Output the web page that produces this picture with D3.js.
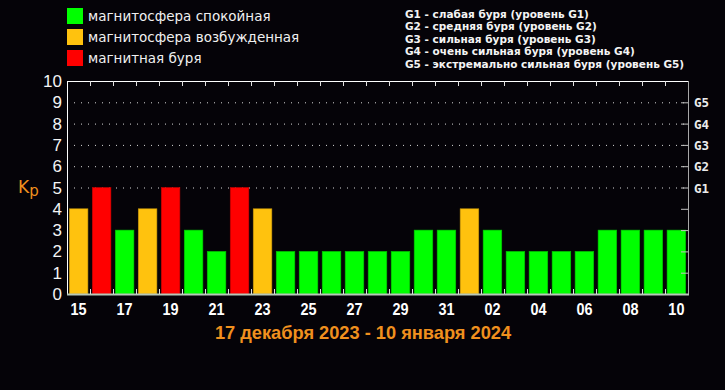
<!DOCTYPE html>
<html>
<head>
<meta charset="utf-8">
<script src="https://cdn.jsdelivr.net/npm/d3@7"></script>
<style>
  html, body { margin: 0; padding: 0; background: #050308; }
  svg { display: block; }
</style>
</head>
<body>
<svg id="chart" width="725" height="390"></svg>
<script>
// Kp index, one bar per day, 15 Dec 2023 .. 10 Jan 2024
const days = ['15','16','17','18','19','20','21','22','23','24','25','26','27','28','29','30','31',
              '01','02','03','04','05','06','07','08','09','10']
const kp = [4,5,3,4,5,3,2,5,4,2,2,2,2,2,2,3,3,4,3,2,2,2,2,3,3,3,3]
const dayLabels = ['15','17','19','21','23','25','27','29','31','02','04','06','08','10']
const yTicks = [0,1,2,3,4,5,6,7,8,9,10]
const gLevels = ['G1','G2','G3','G4','G5']
const legendItems = ['магнитосфера спокойная', 'магнитосфера возбужденная', 'магнитная буря']
const gNotes = [
  'G1 - слабая буря (уровень G1)',
  'G2 - средняя буря (уровень G2)',
  'G3 - сильная буря (уровень G3)',
  'G4 - очень сильная буря (уровень G4)',
  'G5 - экстремально сильная буря (уровень G5)'
]
const title = '17 декабря 2023 - 10 января 2024'

const GREEN = '#00ff00', YELLOW = '#ffc20e', RED = '#ff0000', ORANGE = '#f0901e'
const colorFor = v => v >= 5 ? RED : v === 4 ? YELLOW : GREEN
const narrow = 'Liberation Sans, Arial, sans-serif'

const svg = d3.select('#chart')
const m = { left: 67, right: 688, top: 81, bottom: 294 }

const x = d3.scaleBand().domain(days).range([m.left, m.right]).paddingInner(0.19).paddingOuter(0.1)
const y = d3.scaleLinear().domain([0, 10]).range([m.bottom, m.top])
const step = x.step()

// dotted grid for storm levels
svg.append('g').selectAll('line')
  .data([5,6,7,8,9])
  .join('line')
  .attr('x1', m.left).attr('x2', m.right)
  .attr('y1', d => y(d) + 0.5).attr('y2', d => y(d) + 0.5)
  .attr('stroke', '#d8d8d8').attr('stroke-width', 1)
  .attr('stroke-dasharray', '1,6')

// bars
svg.append('g').selectAll('rect')
  .data(days.map((d, i) => ({ day: d, v: kp[i] })))
  .join('rect')
  .attr('x', d => x(d.day))
  .attr('y', d => y(d.v))
  .attr('width', x.bandwidth())
  .attr('height', d => y(0) - y(d.v))
  .attr('fill', d => colorFor(d.v))
  .attr('stroke', d => d3.color(colorFor(d.v)).darker(0.8))
  .attr('stroke-width', 0.6)

// frame
const frame = svg.append('g')
frame.append('line').attr('x1', m.left + 0.5).attr('x2', m.left + 0.5).attr('y1', m.top).attr('y2', m.bottom + 1).attr('stroke', '#ffffff')
frame.append('line').attr('x1', m.left).attr('x2', m.right).attr('y1', m.top + 0.5).attr('y2', m.top + 0.5).attr('stroke', '#ffffff')
frame.append('line').attr('x1', m.right + 0.5).attr('x2', m.right + 0.5).attr('y1', m.top).attr('y2', m.bottom + 1).attr('stroke', '#a8a8a8')
frame.append('line').attr('x1', m.left).attr('x2', m.right + 1).attr('y1', m.bottom + 0.5).attr('y2', m.bottom + 0.5).attr('stroke', '#b8c8b8').attr('stroke-width', 2)

// day boundary ticks, top and bottom
const bounds = d3.range(1, days.length).map(i => m.left + step * i)
frame.append('g').selectAll('line').data(bounds).join('line')
  .attr('x1', d => Math.round(d) + 0.5).attr('x2', d => Math.round(d) + 0.5)
  .attr('y1', m.top).attr('y2', m.top + 5).attr('stroke', '#e0e0e0')
frame.append('g').selectAll('line').data(bounds).join('line')
  .attr('x1', d => Math.round(d) + 0.5).attr('x2', d => Math.round(d) + 0.5)
  .attr('y1', m.bottom - 5).attr('y2', m.bottom).attr('stroke', '#e0e0e0')

// right ticks
frame.append('g').selectAll('line').data(yTicks.slice(1, 10)).join('line')
  .attr('x1', m.right - 7).attr('x2', m.right)
  .attr('y1', d => y(d) + 0.5).attr('y2', d => y(d) + 0.5).attr('stroke', '#c0c0c0')

// left axis numbers
svg.append('g').selectAll('text').data(yTicks).join('text')
  .attr('x', 62).attr('y', d => y(d) + 6)
  .attr('text-anchor', 'end')
  .attr('font-family', 'Liberation Sans, Arial, sans-serif')
  .attr('font-size', 17).attr('fill', '#f4f4f4')
  .text(d => d)

// Kp label
const kpLabel = svg.append('text')
  .attr('x', 18).attr('y', 193)
  .attr('font-family', 'DejaVu Sans, sans-serif')
  .attr('font-size', 17).attr('fill', ORANGE)
kpLabel.append('tspan').text('K')
kpLabel.append('tspan').attr('font-size', 15).attr('dy', 3).text('p')

// G levels on right
svg.append('g').selectAll('text').data(gLevels).join('text')
  .attr('x', 694).attr('y', (d, i) => y(i + 5) + 5)
  .attr('font-family', 'DejaVu Sans Mono, monospace')
  .attr('font-weight', 'bold')
  .attr('font-size', 12.5).attr('fill', '#ececec')
  .text(d => d)

// day labels (narrow bold look via horizontal squeeze)
svg.append('g').selectAll('text').data(dayLabels).join('text')
  .attr('transform', d => `translate(${x(d) + x.bandwidth() / 2},315) scale(0.85,1)`)
  .attr('text-anchor', 'middle')
  .attr('font-family', narrow)
  .attr('font-weight', 'bold')
  .attr('font-size', 17).attr('fill', '#ffffff')
  .text(d => d)

// title
svg.append('text')
  .attr('transform', 'translate(363,339) scale(0.96,1)')
  .attr('text-anchor', 'middle')
  .attr('font-family', narrow)
  .attr('font-weight', 'bold')
  .attr('font-size', 19).attr('fill', ORANGE)
  .text(title)

// colour legend
const legend = svg.append('g')
legend.selectAll('rect').data(legendItems).join('rect')
  .attr('x', 67).attr('y', (d, i) => 8 + i * 21)
  .attr('width', 16).attr('height', 16)
  .attr('fill', (d, i) => [GREEN, YELLOW, RED][i])
legend.selectAll('text').data(legendItems).join('text')
  .attr('x', 88).attr('y', (d, i) => 21 + i * 21)
  .attr('font-family', 'DejaVu Sans, sans-serif')
  .attr('font-size', 13.5).attr('fill', '#f0f0f0')
  .text(d => d)

// storm level notes
svg.append('g').selectAll('text').data(gNotes).join('text')
  .attr('x', 405).attr('y', (d, i) => 18 + i * 12.4)
  .attr('font-family', 'DejaVu Sans, sans-serif')
  .attr('font-weight', 'bold')
  .attr('font-size', 10.5).attr('fill', '#f4f4f4')
  .text(d => d)
</script>
</body>
</html>
